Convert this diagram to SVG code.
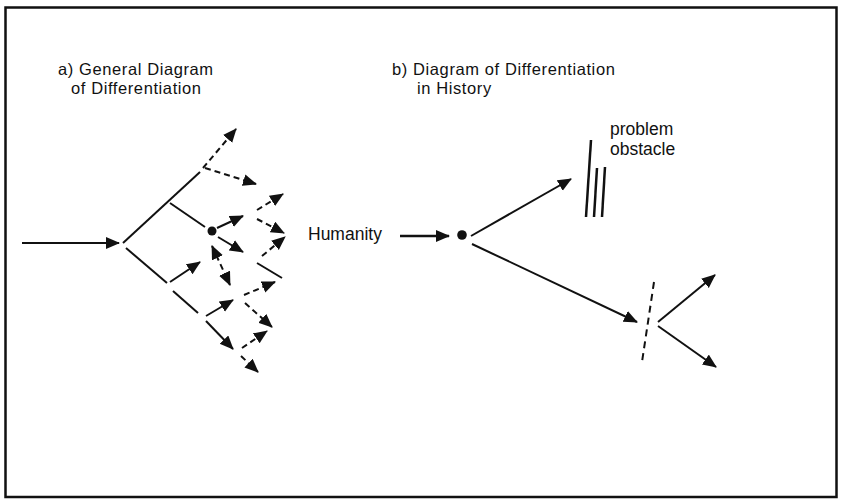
<svg xmlns="http://www.w3.org/2000/svg" width="848" height="499" viewBox="0 0 848 499">
<style>
text{font-family:"Liberation Sans",Arial,sans-serif;font-size:17.5px;fill:#111}
.t{font-size:16.5px;letter-spacing:0.6px}
.s{stroke:#111;stroke-width:2;fill:none}
.d{stroke:#111;stroke-width:2;fill:none;stroke-dasharray:6 4}
.a{marker-end:url(#ah)}
.r{stroke:#111;stroke-width:2.5;fill:none}
</style>
<defs>
<marker id="ah" markerUnits="userSpaceOnUse" markerWidth="16" markerHeight="13" refX="13" refY="6" orient="auto-start-reverse">
<path d="M0,0 L14,6 L0,12 z" fill="#111"/>
</marker>
</defs>
<rect id="frame" x="5.5" y="7.5" width="831" height="489.5" fill="#fff" stroke="#111" stroke-width="2.5"/>
<g id="title-a"><text class="t" x="58" y="75">a) General Diagram</text><text class="t" x="71" y="94">of Differentiation</text></g>
<g id="title-b"><text class="t" x="392" y="75">b) Diagram of Differentiation</text><text class="t" x="417" y="94">in History</text></g>
<g id="humanity"><text x="308" y="240">Humanity</text></g>
<g id="problem"><text x="610" y="135">problem</text><text x="610" y="155">obstacle</text></g>
<g id="dot-a"><circle cx="212" cy="231" r="4.5" fill="#111"/></g>
<g id="dot-b"><circle cx="462" cy="235" r="4.8" fill="#111"/></g>
<g id="obstacle-marks" class="r">
<line x1="591" y1="140" x2="586" y2="217"/>
<line x1="597" y1="168" x2="594" y2="217"/>
<line x1="605" y1="167" x2="602" y2="217"/>
</g>
<g id="barrier"><line x1="654" y1="282" x2="642" y2="362" stroke="#111" stroke-width="2" stroke-dasharray="7 5"/></g>
<g id="connectors">
<line class="s a" x1="22" y1="243" x2="119" y2="243"/>
<line class="s" x1="123" y1="243" x2="200" y2="172"/>
<line class="s" x1="126" y1="248" x2="167" y2="283"/>
<line class="d a" x1="203" y1="168" x2="236" y2="129"/>
<line class="d a" x1="205" y1="168" x2="256" y2="184"/>
<line class="s" x1="170" y1="203" x2="205" y2="227"/>
<line class="s a" x1="217" y1="228" x2="243" y2="216"/>
<line class="s a" x1="218" y1="237" x2="243" y2="252"/>
<line class="d a" x1="257" y1="210" x2="283" y2="194"/>
<line class="d a" x1="257" y1="219" x2="284" y2="233"/>
<line class="d a" x1="262" y1="256" x2="285" y2="237"/>
<line class="s" x1="257" y1="263" x2="282" y2="278"/>
<line class="s a" x1="170" y1="282" x2="200" y2="262"/>
<line class="d a" x1="212" y1="246" x2="230" y2="285" marker-start="url(#ah)"/>
<line class="s" x1="173" y1="291" x2="198" y2="313"/>
<line class="s a" x1="206" y1="316" x2="233" y2="300"/>
<line class="s a" x1="206" y1="321" x2="233" y2="349"/>
<line class="d a" x1="244" y1="295" x2="275" y2="282"/>
<line class="d a" x1="245" y1="303" x2="272" y2="327"/>
<line class="d a" x1="242" y1="348" x2="267" y2="331"/>
<line class="d a" x1="241" y1="356" x2="258" y2="372"/>
<line class="r a" x1="400" y1="236" x2="449" y2="236"/>
<line class="s a" x1="471" y1="236" x2="571" y2="179"/>
<line class="s a" x1="472" y1="244" x2="637" y2="322"/>
<line class="s a" x1="658" y1="322" x2="715" y2="275"/>
<line class="s a" x1="658" y1="326" x2="716" y2="367"/>
</g>
</svg>
